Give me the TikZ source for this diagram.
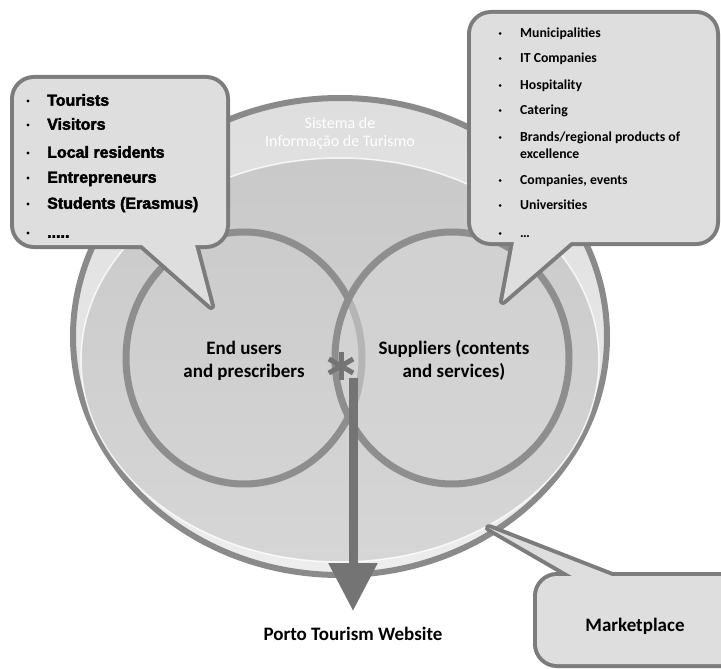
\documentclass[tikz,border=0pt]{standalone}
\usepackage{fontspec}
\setmainfont{Carlito}
\newfontfamily\heavyfont{Liberation Sans}[UprightFont={*/B}, FakeBold=2.5]
\usetikzlibrary{arrows.meta,calc,shapes.geometric}

\definecolor{rimgrey}{HTML}{8A8A8A}
\definecolor{ringtop}{HTML}{DEDEDE}
\definecolor{ringbot}{HTML}{EDEDED}
\definecolor{innertop}{HTML}{C9C9C9}
\definecolor{innerbot}{HTML}{D6D6D6}
\definecolor{circlegrey}{HTML}{8E8E8E}
\definecolor{arrowgrey}{HTML}{747474}
\definecolor{balloonfillc}{HTML}{DEDEDE}
\definecolor{balloonedgec}{HTML}{7C7C7C}

% speech balloon: rounded box #1--#2 with a tail from base #3 to tip #4 to base #5
\newcommand\drawballoon[5]{%
  \path[balloonedge, rounded corners=20pt] #1 rectangle #2;
  \path[balloonedge, line join=round] ($#4!1.25!#3$) -- #4 -- ($#4!1.25!#5$);
  \fill[balloonfillc, rounded corners=20pt] #1 rectangle #2;
  \fill[balloonfillc] ($#4!1.25!#3$) -- #4 -- ($#4!1.25!#5$) -- cycle;
}

\begin{document}
\begin{tikzpicture}[x=1pt,y=-1pt,
  balloonedge/.style={draw=balloonedgec, line width=8pt},
  ring/.style={ellipse, draw=circlegrey, line width=7pt, inner sep=0pt},
  bigtxt/.style={font=\bfseries\fontsize{19}{23}\selectfont, align=center, inner sep=0pt},
  systxt/.style={font=\fontsize{16}{17.5}\selectfont, text=white, align=center, inner sep=0pt},
  litem/.style={font=\heavyfont\fontsize{16}{19}\selectfont, anchor=west, inner sep=0pt, text height=11.5pt, text depth=0pt},
  ritem/.style={font=\bfseries\fontsize{13.75}{17}\selectfont, anchor=west, inner sep=0pt, text height=8.9pt, text depth=0pt},
  dotbullet/.style={circle, fill=black, inner sep=0pt, minimum size=#1},
  dotbullet/.default=3pt]
\useasboundingbox (0,0) rectangle (721,669);
\clip (0,0) rectangle (721,669);
\fill[white] (0,0) rectangle (721,669);

% the dish
\path[draw=rimgrey, line width=6pt, top color=ringtop, bottom color=ringbot]
  (340,336.5) ellipse [x radius=267, y radius=238.5];
\path[top color=innertop, bottom color=innerbot, draw=white, draw opacity=0.8, line width=1.5pt]
  (340,360) ellipse [x radius=259, y radius=202];
\node[systxt] (sys) at (340,133.5) {Sistema de\\Informação de Turismo};

% the two circles
\node[ring, minimum width=236pt, minimum height=252pt] (users) at (244,358) {};
\node[ring, fill=innerbot, fill opacity=0.55, minimum width=234pt, minimum height=252pt] (suppliers) at (452,358) {};
\node[bigtxt] (userslbl) at (244,360.5) {End users\\and prescribers};
\node[bigtxt] (supplbl) at (454,360.5) {Suppliers (contents\\and services)};

% asterisk at the overlap
\coordinate (star) at (341,366);
\foreach \a in {90,30,150}
  \draw[arrowgrey, line width=5pt] ($(star)+(\a:14)$) -- ($(star)+(\a+180:14)$);

% arrow down to the website
\coordinate (src) at (353,378);
\coordinate (tip) at (353,611);
\draw[arrowgrey, line width=9pt, -{Triangle[width=47pt,length=48pt]}] (src) -- (tip);
\node[bigtxt] (web) at (353,634) {Porto Tourism Website};

% balloons
\coordinate (lb1) at (142,245); \coordinate (ltip) at (211,306); \coordinate (lb2) at (195,245);
\drawballoon{(14,79)}{(226,245)}{(lb1)}{(ltip)}{(lb2)}
\coordinate (rb1) at (514,242); \coordinate (rtip) at (503,301); \coordinate (rb2) at (571,242);
\drawballoon{(471,14)}{(716,242)}{(rb1)}{(rtip)}{(rb2)}
\coordinate (mb1) at (572,576); \coordinate (mtip) at (489,528); \coordinate (mb2) at (612,576);
\drawballoon{(537,576)}{(745,664)}{(mb1)}{(mtip)}{(mb2)}

% left balloon list
\foreach \yy [count=\i] in {100,124,152,177,203,232}
  \node[dotbullet=3.2pt] (lbul\i) at (28,\yy+1) {};
\node[litem] (litm1) at (47,100) {Tourists};
\node[litem] (litm2) at (47,124) {Visitors};
\node[litem] (litm3) at (47,152) {Local residents};
\node[litem] (litm4) at (47,177) {Entrepreneurs};
\node[litem] (litm5) at (47,203) {Students (Erasmus)};
\node[litem] (litm6) at (47,232) {.....};

% right balloon list
\foreach \yy [count=\i] in {33,58,85,110,137,180,205,233}
  \node[dotbullet=3pt] (rbul\i) at (500,\yy+0.5) {};
\node[ritem] (ritm1) at (520,33) {Municipalities};
\node[ritem] (ritm2) at (520,58) {IT Companies};
\node[ritem] (ritm3) at (520,85) {Hospitality};
\node[ritem] (ritm4) at (520,110) {Catering};
\node[ritem] (ritm5) at (520,137) {Brands/regional products of};
\node[ritem] (ritm5b) at (520,154) {excellence};
\node[ritem] (ritm6) at (520,180) {Companies, events};
\node[ritem] (ritm7) at (520,205) {Universities};
\node[ritem] (ritm8) at (520,233) {\dots};

\node[bigtxt] (market) at (635,626) {Marketplace};
\end{tikzpicture}
\end{document}
